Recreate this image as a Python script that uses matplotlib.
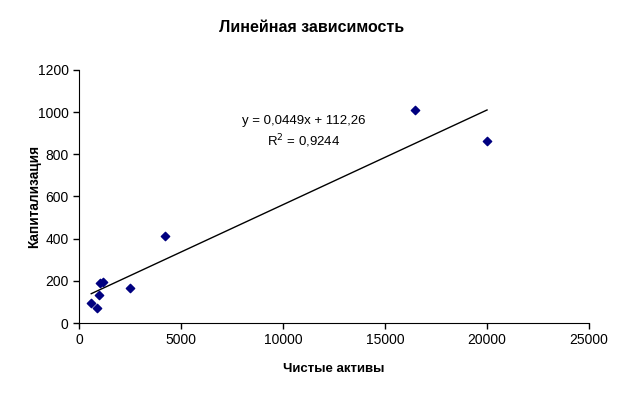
import numpy as np
import matplotlib.pyplot as plt

plt.rcParams['font.family'] = ['Liberation Sans', 'DejaVu Sans']

# data
assets = [600, 870, 965, 1015, 1190, 2500, 4220, 16470, 20000]
capital = [93, 73, 131, 188, 193, 166, 413, 1010, 863]
slope = 0.0449
intercept = 112.26
r2 = 0.9244

fig = plt.figure(figsize=(6.24, 3.93), dpi=100)
ax = fig.add_axes([0.1266, 0.178, 0.8174, 0.644])

ax.scatter(assets, capital, marker='D', s=18, color='#000080', zorder=3)

xs = np.array([min(assets), max(assets)])
ax.plot(xs, slope * xs + intercept, color='black', linewidth=1)

ax.set_xlim(0, 25000)
ax.set_ylim(0, 1200)
ax.set_xticks(np.arange(0, 25001, 5000))
ax.set_yticks(np.arange(0, 1201, 200))
ax.tick_params(labelsize=10, direction='out', length=4, width=1)
for s in ['top', 'right']:
    ax.spines[s].set_visible(False)

ax.set_xlabel('Чистые активы', fontsize=9.5, fontweight='bold', labelpad=11)
ax.set_ylabel('Капитализация', fontsize=9.8, fontweight='bold')
ax.yaxis.set_label_coords(-0.075, 0.5)
fig.suptitle('Линейная зависимость', fontsize=11.5, fontweight='bold', y=0.95)

ax.text(0.44, 0.8, 'y = 0,0449x + 112,26', transform=ax.transAxes,
        ha='center', va='center', fontsize=9.5)
ax.text(0.44, 0.72, 'R$^2$ = 0,9244', transform=ax.transAxes,
        ha='center', va='center', fontsize=9.5)

fig.savefig('out.png', dpi=100)
